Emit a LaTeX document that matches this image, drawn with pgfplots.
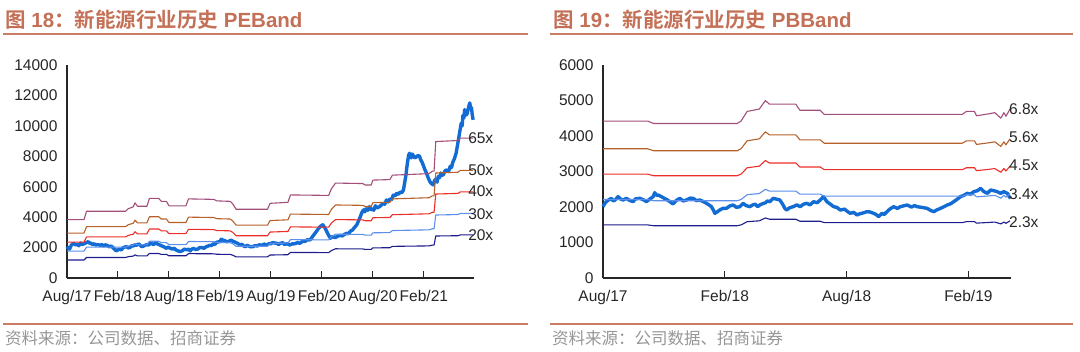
\documentclass[border=0pt]{standalone}
\usepackage{fontspec}
\setmainfont{Liberation Sans}
\newfontfamily\cjk{Noto Sans CJK SC}[BoldFont={Noto Sans CJK SC Bold}]
\usepackage{pgfplots}
\usepackage{pgfplotstable}
\pgfplotsset{compat=1.18}
\definecolor{idx}{RGB}{18,108,212}
\definecolor{cP}{RGB}{162,78,122}
\definecolor{cB}{RGB}{182,96,42}
\definecolor{cR}{RGB}{236,46,40}
\definecolor{cL}{RGB}{92,142,236}
\definecolor{cN}{RGB}{28,28,140}
\definecolor{titlec}{RGB}{196,112,86}
\definecolor{linec}{RGB}{200,125,100}
\definecolor{foot}{RGB}{150,150,150}

\pgfplotstableread{
m b20 b30 b40 b50 b65
0 1180 1770 2360 2950 3835
2.0 1180 1770 2360 2950 3835
2.3 1350 2025 2700 3375 4388
6.9 1350 2025 2700 3375 4388
7.2 1400 2100 2800 3500 4550
7.8 1440 2160 2880 3600 4680
8.0 1520 2280 3040 3800 4940
8.3 1450 2175 2900 3625 4713
9.4 1450 2175 2900 3625 4713
9.7 1610 2415 3220 4025 5233
10.8 1610 2415 3220 4025 5233
11.1 1550 2325 3100 3875 5038
11.7 1550 2325 3100 3875 5038
12.0 1460 2190 2920 3650 4745
14.0 1460 2190 2920 3650 4745
14.3 1600 2400 3200 4000 5200
17.3 1590 2385 3180 3975 5168
17.6 1560 2340 3120 3900 5070
19.2 1550 2325 3100 3875 5038
19.5 1500 2250 3000 3750 4875
19.9 1390 2085 2780 3475 4518
23.6 1390 2085 2780 3475 4518
23.9 1510 2265 3020 3775 4908
26.0 1530 2295 3060 3825 4973
26.3 1680 2520 3360 4200 5460
30.8 1670 2505 3340 4175 5428
31.1 1800 2700 3600 4500 5850
31.6 1920 2880 3840 4800 6240
34.8 1910 2865 3820 4775 6208
35.1 1880 2820 3760 4700 6110
35.8 1880 2820 3760 4700 6110
36.0 1980 2970 3960 4950 6435
38.0 1990 2985 3980 4975 6468
38.3 2080 3120 4160 5200 6760
42.6 2110 3165 4220 5275 6858
43.0 2160 3240 4320 5400 7020
43.2 2160 3240 4320 5400 7020
43.4 2760 4140 5520 6900 8970
46.0 2780 4170 5560 6950 9035
46.3 2830 4245 5660 7075 9198
47.8 2830 4245 5660 7075 9198
}\peband

\pgfplotstableread{
m v
0 2060
0.15 1950
0.3 1900
0.5 2150
0.75 2280
0.9 2220
1.0 2180
1.2 2200
1.4 2120
1.6 2300
1.8 2200
2.0 2250
2.3 2330
2.5 2390
2.65 2290
2.8 2300
3.0 2200
3.2 2250
3.4 2160
3.6 2200
3.9 2150
4.1 2200
4.3 2100
4.5 2180
4.7 2150
5.0 2050
5.2 2100
5.5 1950
5.8 1780
6.0 1850
6.2 1900
6.4 1840
6.6 2000
7.0 2060
7.2 1980
7.4 2000
7.6 2120
7.8 2100
8.0 2190
8.2 2150
8.4 2240
8.6 2170
8.8 2060
9.0 2100
9.2 2150
9.4 2200
9.6 2160
9.8 2280
10.0 2250
10.2 2200
10.4 2300
10.6 2250
10.8 2200
11.0 2150
11.2 2100
11.4 2050
11.7 1950
11.9 2030
12.0 2000
12.2 1940
12.4 1900
12.6 1960
12.8 1850
13.0 1800
13.3 1730
13.6 1800
13.8 1900
14.1 1850
14.3 1900
14.5 1780
14.7 1900
14.9 1950
15.1 1880
15.4 1900
15.6 2000
15.9 2000
16.1 1950
16.4 2060
16.6 2100
16.8 2150
17.0 2130
17.2 2250
17.4 2200
17.6 2350
18.0 2390
18.15 2550
18.3 2500
18.6 2450
18.8 2380
19.0 2400
19.3 2480
19.6 2400
19.8 2350
20.0 2300
20.2 2230
20.4 2170
20.6 2220
20.8 2100
21.0 2060
21.2 2150
21.4 2100
21.6 2050
21.9 2060
22.1 2130
22.4 2100
22.6 2180
22.9 2150
23.2 2230
23.5 2170
23.8 2260
24.0 2250
24.2 2330
24.4 2300
24.7 2280
24.9 2200
25.1 2280
25.4 2320
25.6 2200
25.9 2260
26.2 2170
26.5 2240
26.8 2250
27.1 2320
27.4 2280
27.7 2400
28.0 2400
28.3 2520
28.6 2500
28.8 2650
29.0 2800
29.2 2950
29.4 3100
29.6 3250
29.8 3380
30.1 3500
30.25 3380
30.4 3250
30.55 3080
30.7 2900
30.85 2750
31.0 2610
31.2 2720
31.4 2700
31.55 2640
31.7 2700
32.0 2780
32.2 2800
32.4 2760
32.6 2850
32.9 2940
33.1 2900
33.4 3100
33.6 3150
33.8 3300
34.1 3490
34.3 3750
34.5 4000
34.7 4300
34.9 4475
35.05 4350
35.2 4550
35.4 4450
35.6 4690
35.75 4500
35.9 4550
36.1 4450
36.3 4750
36.5 4600
36.8 4700
37.0 4800
37.2 4900
37.4 4850
37.6 5130
37.8 5000
38.0 5200
38.2 5150
38.4 5450
38.6 5400
38.8 5570
39.0 5500
39.2 5650
39.4 5600
39.6 5790
39.75 6300
39.9 6800
40.0 7300
40.1 7700
40.2 8050
40.3 8200
40.4 7950
40.5 7900
40.6 8150
40.7 8100
40.9 7900
41.1 7950
41.3 8050
41.5 8000
41.6 7800
41.7 7700
41.8 7600
41.9 7450
42.1 7150
42.3 6900
42.5 6600
42.7 6340
42.9 6200
43.1 6120
43.25 6400
43.4 6500
43.55 6300
43.7 6670
43.85 6600
44.0 6900
44.15 6750
44.3 6800
44.5 7050
44.7 7100
44.9 7000
45.1 7340
45.25 7250
45.4 7600
45.6 7850
45.8 8220
45.95 8700
46.1 9200
46.25 9700
46.4 10180
46.5 10000
46.6 10700
46.7 10500
46.8 11070
46.95 10700
47.1 10800
47.25 11200
47.4 11510
47.5 11150
47.6 11200
47.7 10700
47.8 10400
}\peidx

\pgfplotstableread{
m p23 p34 p45 p56 p68
0 1495 2210 2925 3640 4420
2.2 1495 2210 2925 3640 4420
2.5 1472 2176 2880 3584 4352
6.6 1472 2176 2880 3584 4352
6.8 1495 2210 2925 3640 4420
7.1 1587 2346 3105 3864 4692
7.7 1610 2380 3150 3920 4760
8.0 1691 2499 3308 4116 4998
8.2 1656 2448 3240 4032 4896
9.5 1656 2448 3240 4032 4896
9.7 1599 2363 3128 3892 4726
10.7 1599 2363 3128 3892 4726
10.9 1559 2305 3051 3797 4610
17.7 1559 2305 3051 3797 4610
17.9 1587 2346 3105 3864 4692
18.3 1587 2346 3105 3864 4692
18.4 1546 2285 3024 3763 4570
19.0 1564 2312 3060 3808 4624
19.3 1576 2329 3083 3836 4658
19.6 1523 2251 2979 3707 4502
19.75 1576 2329 3083 3836 4658
19.85 1540 2278 3015 3752 4556
20.05 1610 2380 3150 3920 4760
}\pbband

\pgfplotstableread{
m v
0 2009
0.08 2090
0.16 2150
0.28 2200
0.41 2244
0.5 2170
0.6 2200
0.74 2291
0.85 2230
0.99 2197
1.15 2244
1.3 2190
1.48 2150
1.6 2230
1.81 2244
2.0 2200
2.14 2150
2.3 2220
2.47 2291
2.55 2404
2.63 2330
2.71 2338
2.88 2291
3.0 2250
3.12 2216
3.3 2150
3.45 2085
3.6 2180
3.78 2244
3.95 2170
4.11 2197
4.3 2250
4.44 2244
4.6 2180
4.77 2197
4.95 2150
5.10 2103
5.22 2060
5.34 2009
5.45 1900
5.51 1822
5.62 1860
5.75 1915
5.9 1960
6.08 1962
6.25 2030
6.41 2056
6.58 1990
6.74 2009
6.90 2103
7.05 2040
7.23 2009
7.38 2060
7.5 2080
7.62 2010
7.72 2056
7.85 2090
8.0 2120
8.1 2170
8.22 2150
8.38 2244
8.55 2220
8.71 2197
8.85 2080
8.96 1960
9.04 1915
9.2 1980
9.37 2009
9.55 2060
9.71 2009
9.88 2080
10.04 2103
10.2 2060
10.37 2150
10.55 2120
10.70 2197
10.86 2291
11.03 2150
11.2 2080
11.36 2009
11.52 1990
11.69 1915
11.9 1940
12.05 1870
12.18 1822
12.35 1850
12.51 1775
12.65 1810
12.8 1830
13.00 1868
13.15 1860
13.33 1822
13.45 1790
13.58 1728
13.74 1822
13.85 1790
13.99 1868
14.15 1950
14.32 2009
14.5 1960
14.65 2009
14.8 2030
14.98 2056
15.2 2000
15.35 2040
15.47 2009
15.7 1990
15.97 1962
16.15 1900
16.30 1868
16.45 1920
16.63 1962
16.8 2010
16.96 2056
17.12 2090
17.28 2150
17.45 2220
17.61 2291
17.78 2330
17.94 2385
18.1 2360
18.27 2432
18.45 2460
18.60 2526
18.75 2440
18.93 2385
19.10 2480
19.25 2460
19.42 2432
19.59 2385
19.75 2432
19.92 2385
20.0 2300
20.08 2244
}\pbidx

\tikzset{blab/.style={anchor=west, inner sep=0, font=\fontsize{15.5bp}{17bp}\selectfont, text=black!85}}

\pgfplotsset{
  bandaxis/.style={
    scale only axis, anchor=south west,
    axis x line=bottom, axis y line=left,
    axis line style={draw=black!85, line width=1.2bp, -},
    tick align=inside, major tick length=7bp,
    xtick style={draw=black!85, line width=1bp},
    ytick style={draw=none},
    ymin=0, xmin=0,
    ticklabel style={font=\fontsize{15.5bp}{17bp}\selectfont, text=black!85},
    /pgf/number format/assume math mode=true,
    /pgf/number format/1000 sep={},
    scaled y ticks=false,
    yticklabel shift=6bp,
    xticklabel shift=9bp,
    clip=false,
  },
  band/.style={line width=1.1bp, line join=round},
  idxl/.style={color=idx, line width=3.4bp, line join=round},
}

\begin{document}
\begin{tikzpicture}
\path[use as bounding box] (0bp,0bp) rectangle (1080bp,352bp);

% titles and rules
\node[anchor=west, inner sep=0, text=titlec] at (5bp,332bp)
  {\fontsize{20.5bp}{24bp}\selectfont\bfseries{\cjk 图} 18{\cjk ：新能源行业历史} PEBand};
\node[anchor=west, inner sep=0, text=titlec] at (553bp,332bp)
  {\fontsize{20.5bp}{24bp}\selectfont\bfseries{\cjk 图} 19{\cjk ：新能源行业历史} PBBand};
\draw[linec, line width=2bp] (3bp,318bp) -- (528bp,318bp);
\draw[linec, line width=2bp] (550bp,318bp) -- (1073bp,318bp);
\draw[linec, line width=2bp] (3bp,28bp) -- (528bp,28bp);
\draw[linec, line width=2bp] (550bp,28bp) -- (1073bp,28bp);
\node[anchor=west, inner sep=0, text=foot] at (5bp,14bp)
  {\cjk\fontsize{16.5bp}{18bp}\selectfont 资料来源：公司数据、招商证券};
\node[anchor=west, inner sep=0, text=foot] at (552bp,14bp)
  {\cjk\fontsize{16.5bp}{18bp}\selectfont 资料来源：公司数据、招商证券};

% left chart
\begin{axis}[bandaxis, at={(67bp,74bp)}, width=407bp, height=213bp,
  xmax=47.9, ymax=14000, ytick={0,2000,...,14000},
  xtick={0,6,...,42},
  xticklabels={Aug/17,Feb/18,Aug/18,Feb/19,Aug/19,Feb/20,Aug/20,Feb/21}]
\addplot[idxl] table[x=m,y=v] {\peidx};
\addplot[band, cN] table[x=m,y=b20] {\peband};
\addplot[band, cL] table[x=m,y=b30] {\peband};
\addplot[band, cR] table[x=m,y=b40] {\peband};
\addplot[band, cB] table[x=m,y=b50] {\peband};
\addplot[band, cP] table[x=m,y=b65] {\peband};
\node[blab] at (axis cs:47.2,9210) {65x};
\node[blab] at (axis cs:47.2,7100) {50x};
\node[blab] at (axis cs:47.2,5680) {40x};
\node[blab] at (axis cs:47.2,4210) {30x};
\node[blab] at (axis cs:47.2,2785) {20x};
\end{axis}

% right chart
\begin{axis}[bandaxis, at={(603bp,74bp)}, width=408bp, height=213bp,
  xmax=20.1, ymax=6000, ytick={0,1000,...,6000},
  xtick={0,6,12,18},
  xticklabels={Aug/17,Feb/18,Aug/18,Feb/19}]
\addplot[idxl] table[x=m,y=v] {\pbidx};
\addplot[band, cN] table[x=m,y=p23] {\pbband};
\addplot[band, cL] table[x=m,y=p34] {\pbband};
\addplot[band, cR] table[x=m,y=p45] {\pbband};
\addplot[band, cB] table[x=m,y=p56] {\pbband};
\addplot[band, cP] table[x=m,y=p68] {\pbband};
\node[blab] at (axis cs:20.0,4750) {6.8x};
\node[blab] at (axis cs:20.0,3962) {5.6x};
\node[blab] at (axis cs:20.0,3164) {4.5x};
\node[blab] at (axis cs:20.0,2366) {3.4x};
\node[blab] at (axis cs:20.0,1568) {2.3x};
\end{axis}
\end{tikzpicture}
\end{document}
